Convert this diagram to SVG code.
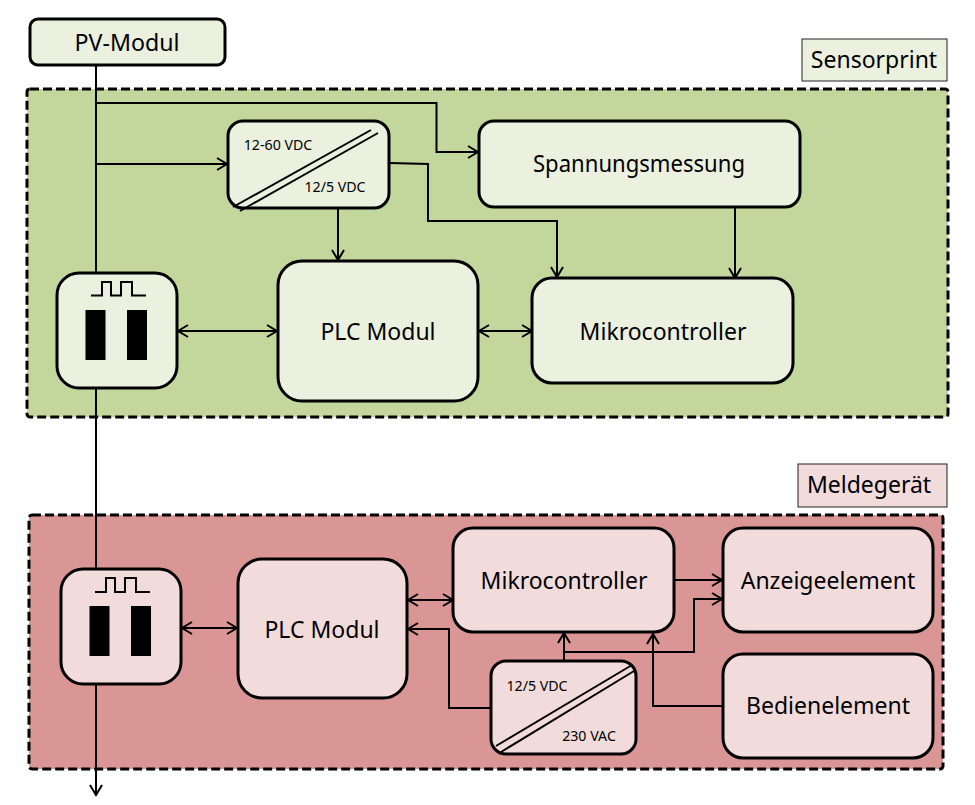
<svg xmlns="http://www.w3.org/2000/svg" width="975" height="805" viewBox="0 0 975 805">
<style>
text{font-family:"Noto Sans","Open Sans","Liberation Sans",sans-serif;fill:#000;text-anchor:middle}
.l{font-size:23px}.s{font-size:14.2px}
.g{fill:#ebf0df;stroke:#000;stroke-width:3}
.r{fill:#f2dcdb;stroke:#000;stroke-width:3}
.line{fill:none;stroke:#000;stroke-width:2}
.a{marker-end:url(#h)}.b{marker-start:url(#hs);marker-end:url(#h)}
.lab{stroke:#222;stroke-width:1}
</style>
<defs>
<marker id="h" markerUnits="userSpaceOnUse" markerWidth="14" markerHeight="16" refX="12" refY="8" orient="auto"><path d="M2 2L12 8L2 14" fill="none" stroke="#000" stroke-width="2"/></marker>
<marker id="hs" markerUnits="userSpaceOnUse" markerWidth="14" markerHeight="16" refX="2" refY="8" orient="auto"><path d="M12 2L2 8L12 14" fill="none" stroke="#000" stroke-width="2"/></marker>
</defs>
<rect id="sensorprint" x="27" y="89" width="921" height="328" rx="3" fill="#c3d69b" stroke="#000" stroke-width="3" stroke-dasharray="9 4"/>
<rect id="meldegeraet" x="29" y="515" width="914" height="254" rx="3" fill="#d99694" stroke="#000" stroke-width="3" stroke-dasharray="9 4"/>
<g id="connectors">
<path class="line" d="M96 66V272"/>
<path class="line" d="M96 389V568"/>
<path class="line a" d="M96 685V795"/>
<path class="line a" d="M96 103H436.500V152H478"/>
<path class="line a" d="M96 164H227"/>
<path class="line a" d="M390 163L428 164V221H557V277"/>
<path class="line a" d="M338 208V260"/>
<path class="line a" d="M735 207V278"/>
<path class="line b" d="M178 331H277"/>
<path class="line b" d="M479 331H532"/>
<path class="line b" d="M182 628H237"/>
<path class="line b" d="M408 600H453"/>
<path class="line a" d="M490 708H449V629H408"/>
<path class="line a" d="M564 660V633"/>
<path class="line a" d="M564 652H694V599H722"/>
<path class="line a" d="M674 580H722"/>
<path class="line a" d="M722 706H653V634"/>
</g>
<g id="pv-modul"><rect class="g" x="30" y="19" width="195" height="46" rx="8"/><text class="l" x="127" y="51" textLength="105" lengthAdjust="spacingAndGlyphs">PV-Modul</text></g>
<g id="label-sensorprint"><rect x="802" y="39" width="145" height="42" fill="#ebf0df" class="lab"/><text class="l" x="874" y="68">Sensorprint</text></g>
<g id="spannungsmessung"><rect class="g" x="479" y="121" width="321" height="86" rx="15"/><text class="l" x="639" y="172" textLength="212" lengthAdjust="spacingAndGlyphs">Spannungsmessung</text></g>
<g id="wandler-1"><rect class="g" x="228" y="121" width="161" height="87" rx="15"/>
<path class="line" d="M233 207L371 130M240 211L378 133"/>
<text class="s" x="278" y="150">12-60 VDC</text><text class="s" x="335" y="192">12/5 VDC</text></g>
<g id="plc-sensor"><rect class="g" x="278" y="261" width="200" height="140" rx="24"/><text class="l" x="378" y="340">PLC Modul</text></g>
<g id="mikro-sensor"><rect class="g" x="532" y="278" width="261" height="105" rx="20"/><text class="l" x="663" y="340">Mikrocontroller</text></g>
<g id="koppler-sensor"><rect class="g" x="57" y="273" width="120" height="115" rx="22"/>
<path class="line" d="M91 295.500H102V282H111V295.500H121V282H132V295.500H146"/>
<rect x="85.500" y="310" width="20" height="50"/><rect x="127" y="310" width="20" height="50"/></g>
<g id="label-meldegeraet"><rect x="798" y="464" width="149" height="43" fill="#f2dcdb" class="lab"/><text class="l" x="869" y="493">Meldegerät</text></g>
<g id="koppler-melde"><rect class="r" x="61" y="569" width="120" height="115" rx="22"/>
<path class="line" d="M95 592H106V578H115V592H125V578H136V592H150"/>
<rect x="89.500" y="606" width="20" height="50"/><rect x="131" y="606" width="20" height="50"/></g>
<g id="plc-melde"><rect class="r" x="238" y="559" width="169" height="139" rx="24"/><text class="l" x="322" y="638">PLC Modul</text></g>
<g id="mikro-melde"><rect class="r" x="453" y="528" width="221" height="104" rx="20"/><text class="l" x="564" y="589">Mikrocontroller</text></g>
<g id="anzeige"><rect class="r" x="723" y="528" width="210" height="104" rx="20"/><text class="l" x="828" y="589">Anzeigeelement</text></g>
<g id="bedien"><rect class="r" x="723" y="654" width="210" height="104" rx="20"/><text class="l" x="828" y="714">Bedienelement</text></g>
<g id="wandler-2"><rect class="r" x="491" y="661" width="145" height="93" rx="15"/>
<path class="line" d="M496 746L632 665M501 752L634 671"/>
<text class="s" x="537" y="691">12/5 VDC</text><text class="s" x="589" y="741">230 VAC</text></g>
</svg>
